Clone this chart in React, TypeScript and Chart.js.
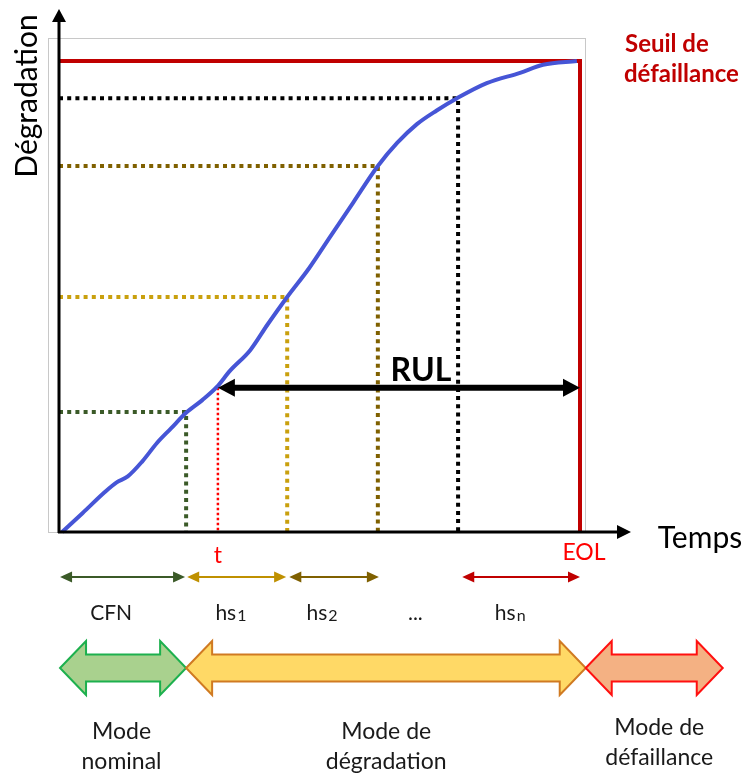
import React, { useEffect, useRef } from "react";
import { Chart, registerables } from "chart.js";
Chart.register(...registerables);

// Degradation curve (x: time 0..100 = EOL, y: degradation 0..100 = threshold)
const curveX = [0.6, 4.5, 8.8, 11.0, 13.2, 16.0, 18.8, 21.5, 24.4, 27.5, 30.3, 32.8, 36.7, 40.0, 43.8, 48.0, 52.0, 56.5, 61.2, 64.9, 68.7, 72.5, 76.4, 82.1, 88.5, 92.9, 99.4];
const curveY = [0, 4.0, 8.5, 10.5, 11.8, 15.0, 18.9, 22.0, 25.3, 28.0, 30.8, 34.2, 38.6, 44.0, 49.9, 56.0, 62.6, 70.0, 77.7, 82.6, 86.6, 89.5, 92.1, 95.3, 97.5, 99.2, 100];

const thresholdY = 100;
const eolX = 100;

// health-state milestones
const milestoneX = [24.4, 43.8, 61.2, 76.6];
const milestoneY = [25.5, 49.9, 77.7, 92.1];
const milestoneColors = ["#3B5A28", "#C9A00E", "#7F6000", "#000000"];

const tX = 30.5;
const tY = 30.6;

// bottom segments
const segLabels = ["CFN", "hs", "hs", "...", "hs"];
const segSubs = ["", "1", "2", "", "n"];
const segStart = [0.2, 24.6, 44.2, 0, 77.4];
const segEnd = [24.2, 43.6, 61.4, 0, 100];
const segColors = ["#3B5A28", "#BF9000", "#7F6000", "", "#C00000"];
const segLabelX = [10, 33, 50.5, 68.4, 86.6];

// modes
const modeStart = [0.2, 24.4, 101.1];
const modeEnd = [24.4, 101.1, 127.4];
const modeFill = ["#A9D18E", "#FFD966", "#F4B183"];
const modeStroke = ["#1DB04E", "#D07A22", "#FF1010"];
const modeLine1 = ["Mode", "Mode de", "Mode de"];
const modeLine2 = ["nominal", "dégradation", "défaillance"];
const modeLabelX = [12, 62.8, 115.2];

const FONT = "Lato, 'Open Sans', sans-serif";

function arrowHead(ctx: CanvasRenderingContext2D, x: number, y: number, dir: number, len: number, half: number) {
  ctx.beginPath();
  ctx.moveTo(x, y);
  ctx.lineTo(x - dir * len, y - half);
  ctx.lineTo(x - dir * len, y + half);
  ctx.closePath();
  ctx.fill();
}

function arrowHeadV(ctx: CanvasRenderingContext2D, x: number, y: number, len: number, half: number) {
  ctx.beginPath();
  ctx.moveTo(x, y);
  ctx.lineTo(x - half, y + len);
  ctx.lineTo(x + half, y + len);
  ctx.closePath();
  ctx.fill();
}

const diagramPlugin = {
  id: "diagram",
  beforeDatasetsDraw(chart: any) {
    const ctx: CanvasRenderingContext2D = chart.ctx;
    const xs = chart.scales.x;
    const ys = chart.scales.y;
    const x0 = xs.getPixelForValue(0);
    const y0 = ys.getPixelForValue(0);
    ctx.save();
    ctx.strokeStyle = "#C8C8C8";
    ctx.lineWidth = 1;
    ctx.strokeRect(x0 - 10.5, ys.getPixelForValue(thresholdY) - 22.5, xs.getPixelForValue(eolX) - x0 + 16, y0 - ys.getPixelForValue(thresholdY) + 23);
    ctx.restore();
  },
  afterDatasetsDraw(chart: any) {
    const ctx: CanvasRenderingContext2D = chart.ctx;
    const xs = chart.scales.x;
    const ys = chart.scales.y;
    const x0 = xs.getPixelForValue(0);
    const y0 = ys.getPixelForValue(0);
    const px = (v: number) => xs.getPixelForValue(v);
    ctx.save();

    // axes
    ctx.strokeStyle = "#000";
    ctx.fillStyle = "#000";
    ctx.lineWidth = 3;
    ctx.beginPath();
    ctx.moveTo(x0, y0 + 1);
    ctx.lineTo(x0, 20);
    ctx.stroke();
    arrowHeadV(ctx, x0, 9, 13, 7);
    ctx.beginPath();
    ctx.moveTo(x0 - 1, y0);
    ctx.lineTo(620, y0);
    ctx.stroke();
    arrowHead(ctx, 631, y0, 1, 14, 7);

    // axis titles
    ctx.fillStyle = "#000";
    ctx.font = `30px ${FONT}`;
    ctx.textAlign = "center";
    ctx.textBaseline = "middle";
    ctx.fillText("Temps", 700, y0 + 6);
    ctx.save();
    ctx.translate(27, 96);
    ctx.rotate(-Math.PI / 2);
    ctx.fillText("Dégradation", 0, 0);
    ctx.restore();

    // threshold label
    ctx.fillStyle = "#C00000";
    ctx.font = `bold 24px ${FONT}`;
    ctx.textAlign = "left";
    ctx.fillText("Seuil de", 625, 44);
    ctx.fillText("défaillance", 624, 74);

    // RUL arrow
    const ry = ys.getPixelForValue(tY);
    const rx1 = px(tX);
    const rx2 = px(eolX);
    ctx.strokeStyle = "#000";
    ctx.fillStyle = "#000";
    ctx.lineWidth = 6;
    ctx.beginPath();
    ctx.moveTo(rx1 + 14, ry);
    ctx.lineTo(rx2 - 14, ry);
    ctx.stroke();
    arrowHead(ctx, rx1, ry, -1, 17, 9);
    arrowHead(ctx, rx2, ry, 1, 17, 9);
    ctx.font = `bold 32px ${FONT}`;
    ctx.textAlign = "center";
    ctx.fillText("RUL", 421, 371);

    // t and EOL labels
    ctx.fillStyle = "#FF0000";
    ctx.font = `23px ${FONT}`;
    ctx.fillText("t", px(tX), y0 + 24);
    ctx.fillText("EOL", px(eolX) + 4, y0 + 21);

    // segment arrows
    const sy = y0 + 45;
    ctx.lineWidth = 2;
    for (let i = 0; i < segLabels.length; i++) {
      if (segColors[i]) {
        const a = px(segStart[i]);
        const b = px(segEnd[i]);
        ctx.strokeStyle = segColors[i];
        ctx.fillStyle = segColors[i];
        ctx.beginPath();
        ctx.moveTo(a + 8, sy);
        ctx.lineTo(b - 8, sy);
        ctx.stroke();
        arrowHead(ctx, a, sy, -1, 12, 5.5);
        arrowHead(ctx, b, sy, 1, 12, 5.5);
      }
      // label
      ctx.fillStyle = "#1a1a1a";
      ctx.font = `21px ${FONT}`;
      const cx = px(segLabelX[i]);
      const ly = y0 + 81;
      if (segSubs[i]) {
        const w1 = ctx.measureText(segLabels[i]).width;
        ctx.font = `16px ${FONT}`;
        const w2 = ctx.measureText(segSubs[i]).width;
        const start = cx - (w1 + w2 + 1) / 2;
        ctx.textAlign = "left";
        ctx.font = `21px ${FONT}`;
        ctx.fillText(segLabels[i], start, ly);
        ctx.font = `16px ${FONT}`;
        ctx.fillText(segSubs[i], start + w1 + 1, ly + 3);
      } else {
        ctx.textAlign = "center";
        ctx.fillText(segLabels[i], cx, ly);
      }
    }

    // mode arrows
    const my = y0 + 136;
    const H = 27;
    const S = 13.5;
    const h = 26;
    for (let i = 0; i < modeStart.length; i++) {
      const a = px(modeStart[i]);
      const b = px(modeEnd[i]);
      ctx.beginPath();
      ctx.moveTo(a, my);
      ctx.lineTo(a + h, my - H);
      ctx.lineTo(a + h, my - S);
      ctx.lineTo(b - h, my - S);
      ctx.lineTo(b - h, my - H);
      ctx.lineTo(b, my);
      ctx.lineTo(b - h, my + H);
      ctx.lineTo(b - h, my + S);
      ctx.lineTo(a + h, my + S);
      ctx.lineTo(a + h, my + H);
      ctx.closePath();
      ctx.fillStyle = modeFill[i];
      ctx.fill();
      ctx.strokeStyle = modeStroke[i];
      ctx.lineWidth = 2;
      ctx.lineJoin = "miter";
      ctx.stroke();

      ctx.fillStyle = "#1a1a1a";
      ctx.font = `23px ${FONT}`;
      ctx.textAlign = "center";
      const lx = px(modeLabelX[i]);
      const off = i === 2 ? -4 : 0;
      ctx.fillText(modeLine1[i], lx, my + 64 + off);
      ctx.fillText(modeLine2[i], lx, my + 94 + off);
    }
    ctx.restore();
  },
};

export default function App() {
  const ref = useRef<HTMLCanvasElement | null>(null);
  useEffect(() => {
    if (!ref.current) return;
    const curve = curveX.map((x, i) => ({ x, y: curveY[i] }));
    const milestoneSets = milestoneX.map((mx, i) => ({
      data: [
        { x: 0, y: milestoneY[i] },
        { x: mx, y: milestoneY[i] },
        { x: mx, y: 0 },
      ],
      borderColor: milestoneColors[i],
      borderWidth: 4,
      borderDash: [4, 4.2],
      borderCapStyle: "butt",
      pointRadius: 0,
      tension: 0,
      clip: false as any,
      order: 2,
    }));
    const chart = new Chart(ref.current, {
      type: "line",
      data: {
        datasets: [
          {
            data: [
              { x: 0, y: thresholdY },
              { x: eolX, y: thresholdY },
              { x: eolX, y: 0 },
            ],
            borderColor: "#C00000",
            borderWidth: 4,
            pointRadius: 0,
            tension: 0,
            clip: false as any,
            order: 3,
          },
          ...milestoneSets,
          {
            data: [
              { x: tX, y: tY },
              { x: tX, y: 0 },
            ],
            borderColor: "#FF0000",
            borderWidth: 2.5,
            borderDash: [2.5, 2.5],
            pointRadius: 0,
            clip: false as any,
            order: 2,
          },
          {
            data: curve,
            borderColor: "#4655D6",
            borderWidth: 4,
            pointRadius: 0,
            tension: 0.3,
            cubicInterpolationMode: "monotone",
            clip: false as any,
            order: 1,
          },
        ] as any,
      },
      options: {
        animation: false,
        responsive: true,
        maintainAspectRatio: false,
        layout: { padding: { left: 59, right: 167, top: 61, bottom: 242 } },
        plugins: { legend: { display: false }, tooltip: { enabled: false } },
        scales: {
          x: { type: "linear", min: 0, max: 100, display: false },
          y: { type: "linear", min: 0, max: 100, display: false },
        },
      },
      plugins: [diagramPlugin],
    });
    return () => chart.destroy();
  }, []);
  return (
    <div style={{ position: "fixed", left: 0, top: 0, width: 747, height: 774, background: "#fff" }}>
      <canvas ref={ref} />
    </div>
  );
}
